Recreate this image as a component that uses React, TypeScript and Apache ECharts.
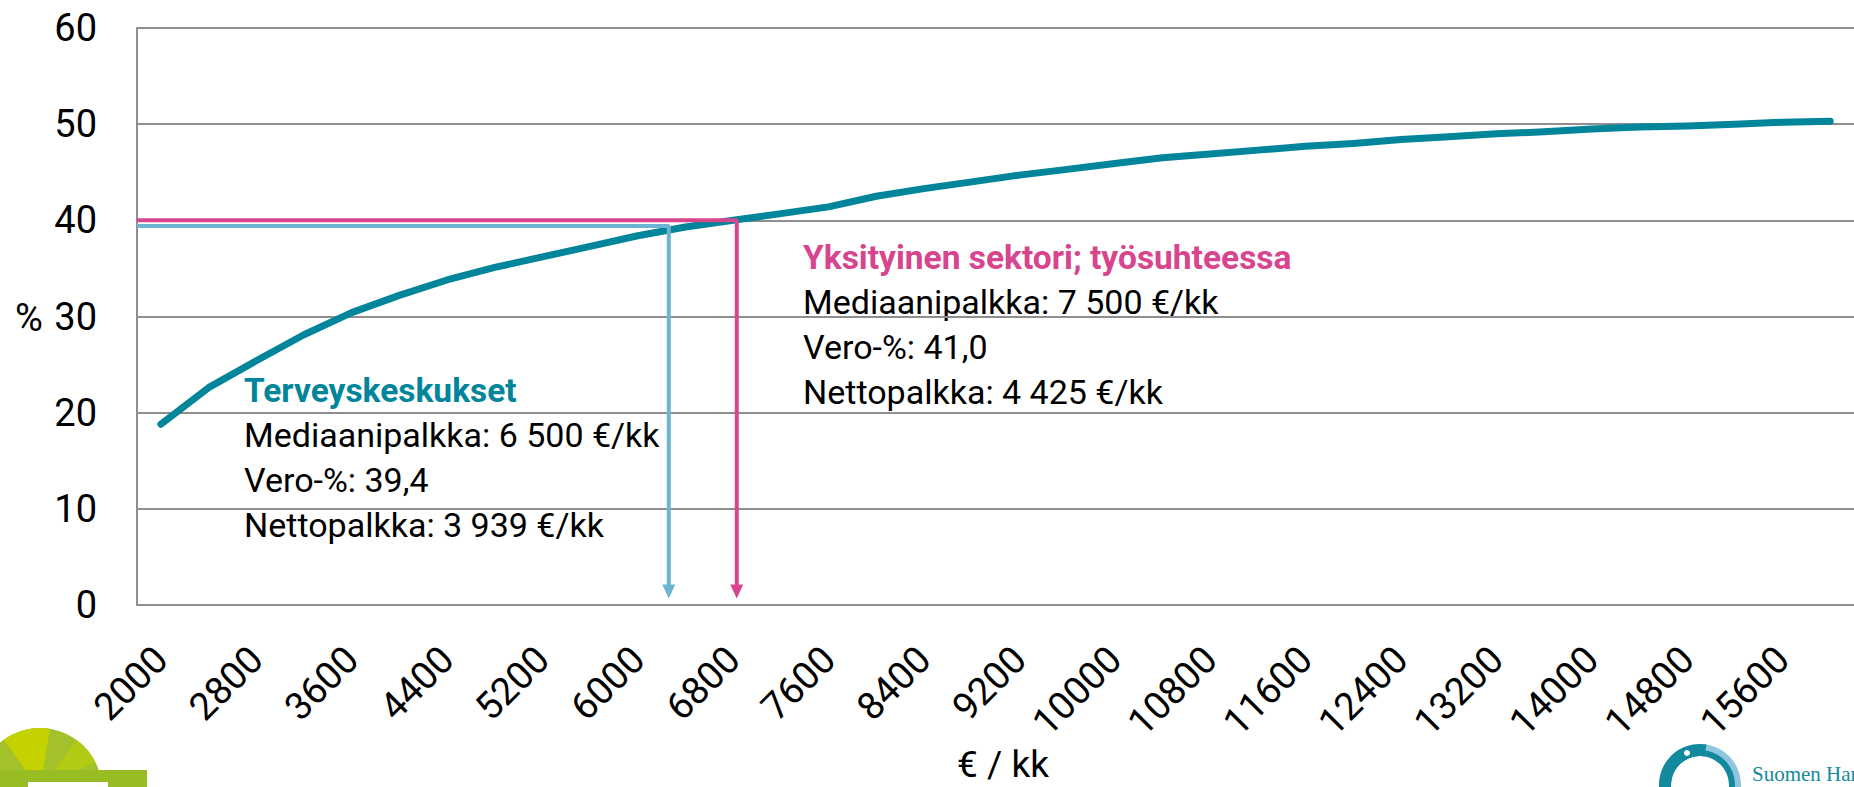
import React, { useEffect, useRef } from "react";
import * as echarts from "echarts";

// ---- data ----
const categories = [
  "2000", "2400", "2800", "3200", "3600", "4000", "4400", "4800", "5200",
  "5600", "6000", "6400", "6800", "7200", "7600", "8000", "8400", "8800",
  "9200", "9600", "10000", "10400", "10800", "11200", "11600", "12000",
  "12400", "12800", "13200", "13600", "14000", "14400", "14800", "15200",
  "15600", "16000",
];
const taxRate = [
  18.8, 22.6, 25.4, 28.1, 30.4, 32.2, 33.8, 35.1, 36.2, 37.3, 38.4, 39.3,
  40.0, 40.7, 41.4, 42.5, 43.3, 44.0, 44.7, 45.3, 45.9, 46.5, 46.9, 47.3,
  47.7, 48.0, 48.4, 48.7, 49.0, 49.2, 49.5, 49.7, 49.8, 50.0, 50.2, 50.3,
];
const yTicks = { min: 0, max: 60, interval: 10 };
// annotation guide lines (euro / %)
const healthX = [1800, 6260, 6260];
const healthY = [39.4, 39.4, 1.4];
const privateX = [1800, 6830, 6830];
const privateY = [40.0, 40.0, 1.4];
const healthTitle = "Terveyskeskukset";
const healthLines = ["Mediaanipalkka: 6 500 €/kk", "Vero-%: 39,4", "Nettopalkka: 3 939 €/kk"];
const privateTitle = "Yksityinen sektori; työsuhteessa";
const privateLines = ["Mediaanipalkka: 7 500 €/kk", "Vero-%: 41,0", "Nettopalkka: 4 425 €/kk"];

const FONT = "Roboto, sans-serif";
const TEAL = "#00859B";
const PINK = "#D6458E";
const LBLUE = "#6CB4D1";
const GRID = "#8F8F8F";

function guide(xs: number[], ys: number[], color: string) {
  return {
    type: "line",
    xAxisIndex: 1,
    yAxisIndex: 0,
    z: 4,
    showSymbol: true,
    symbol: "none",
    lineStyle: { color, width: 4 },
    itemStyle: { color },
    silent: true,
    data: xs.map((x, i) =>
      i === xs.length - 1
        ? { value: [x, ys[i]], symbol: "triangle", symbolRotate: 180, symbolSize: [13, 14] }
        : { value: [x, ys[i]] }
    ),
  };
}

function textBlock(x: number, y0: number, gap: number, title: string, color: string, lines: string[]) {
  const els: any[] = [
    {
      type: "text",
      x,
      y: y0,
      style: { text: title, fill: color, font: `bold 33.5px ${FONT}`, textVerticalAlign: "middle" },
    },
  ];
  lines.forEach((t, i) => {
    els.push({
      type: "text",
      x,
      y: y0 + gap * (i + 1),
      style: { text: t, fill: "#000", font: `34px ${FONT}`, textVerticalAlign: "middle" },
    });
  });
  return els;
}

export default function App() {
  const ref = useRef<HTMLDivElement>(null);
  useEffect(() => {
    if (!ref.current) return;
    const chart = echarts.init(ref.current, undefined, { renderer: "svg" });
    const option: any = {
      animation: false,
      backgroundColor: "#fff",
      grid: { left: 137, top: 28, width: 1737, height: 577 },
      xAxis: [
        {
          type: "category",
          data: categories,
          boundaryGap: true,
          axisLine: { show: true, lineStyle: { color: GRID, width: 2 } },
          axisTick: { show: false },
          splitLine: { show: false },
          axisLabel: {
            interval: 1,
            rotate: 45,
            margin: 48,
            color: "#000",
            fontSize: 38,
            fontFamily: FONT,
          },
        },
        { type: "value", min: 1800, max: 16200, show: false },
      ],
      yAxis: {
        type: "value",
        min: yTicks.min,
        max: yTicks.max,
        interval: yTicks.interval,
        axisLine: { show: true, lineStyle: { color: GRID, width: 2 } },
        axisTick: { show: false },
        splitLine: { show: true, lineStyle: { color: GRID, width: 2 } },
        axisLabel: { margin: 40, color: "#000", fontSize: 38, fontFamily: FONT },
      },
      series: [
        {
          type: "line",
          data: taxRate,
          z: 3,
          showSymbol: false,
          symbol: "none",
          lineStyle: { color: TEAL, width: 7, cap: "round", join: "round" },
          silent: true,
        },
        guide(healthX, healthY, LBLUE),
        guide(privateX, privateY, PINK),
      ],
      graphic: [
        {
          type: "text",
          x: 29,
          y: 318,
          style: { text: "%", fill: "#000", font: `38px ${FONT}`, textAlign: "center", textVerticalAlign: "middle" },
        },
        {
          type: "text",
          x: 1003,
          y: 764,
          style: { text: "€ / kk", fill: "#000", font: `37px ${FONT}`, textAlign: "center", textVerticalAlign: "middle" },
        },
        ...textBlock(244, 390, 45, healthTitle, TEAL, healthLines),
        ...textBlock(803, 257, 45, privateTitle, PINK, privateLines),
        // bottom-left logo (partial)
        { type: "sector", shape: { cx: 40, cy: 790, r: 62, r0: 0, startAngle: Math.PI, endAngle: 2 * Math.PI }, style: { fill: "#A3C12B" } },
        { type: "sector", shape: { cx: 40, cy: 790, r: 62, r0: 0, startAngle: 1.3 * Math.PI, endAngle: 1.55 * Math.PI }, style: { fill: "#C3D200" } },
        { type: "sector", shape: { cx: 40, cy: 790, r: 62, r0: 0, startAngle: 1.7 * Math.PI, endAngle: 1.85 * Math.PI }, style: { fill: "#B3CA14" } },
        { type: "rect", shape: { x: 0, y: 770, width: 147, height: 17 }, style: { fill: "#97BD22" } },
        { type: "rect", shape: { x: 28, y: 782, width: 80, height: 5 }, style: { fill: "#fff" } },
        // bottom-right logo (partial)
        { type: "ring", shape: { cx: 1700, cy: 785, r: 41, r0: 29 }, style: { fill: "#8EC5DF" } },
        { type: "ring", shape: { cx: 1700, cy: 785, r: 35, r0: 29 }, style: { fill: "#13899D" } },
        { type: "sector", shape: { cx: 1700, cy: 785, r: 41, r0: 29, startAngle: 0.85 * Math.PI, endAngle: 1.55 * Math.PI }, style: { fill: "#13899D" } },
        { type: "circle", shape: { cx: 1687, cy: 753, r: 3 }, style: { fill: "#fff" } },
        {
          type: "text",
          x: 1752,
          y: 774,
          style: { text: "Suomen Hammaslääkäriliitto", fill: "#17899C", font: `21px "Liberation Serif", serif`, textVerticalAlign: "middle" },
        },
      ],
    };
    chart.setOption(option);
    return () => chart.dispose();
  }, []);
  return (
    <div
      ref={ref}
      style={{ position: "absolute", left: 0, top: 0, width: 1854, height: 787 }}
    />
  );
}
